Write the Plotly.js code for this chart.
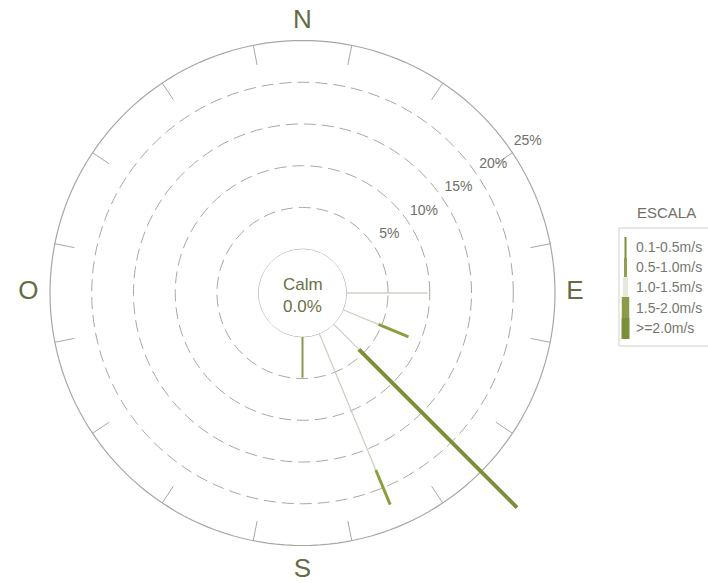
<!DOCTYPE html>
<html><head><meta charset="utf-8">
<script src="https://cdn.plot.ly/plotly-3.0.1.min.js"></script>
<style>html,body{margin:0;padding:0;background:#fff;overflow:hidden;width:708px;height:583px}
#chart{position:absolute;left:-40px;top:-40px;width:788px;height:663px}</style>
</head><body><div id="chart"></div>
<script>
// ---- data ----
const directions = ['N','NNE','NE','ENE','E','ESE','SE','SSE','S','SSW','SW','WSW','W','WNW','NW','NNW'];
const dirAngles = [0,22.5,45,67.5,90,112.5,135,157.5,180,202.5,225,247.5,270,292.5,315,337.5];
const speedBins = ['0.1-0.5m/s','0.5-1.0m/s','1.0-1.5m/s','1.5-2.0m/s','>=2.0m/s'];
// frequency (%) per direction for each speed bin
const freq_01_05 = [0,0,0,0,0,0,0,0,0,0,0,0,0,0,0,0];
const freq_05_10 = [0,0,0,0,0,0,0,0,4.9,0,0,0,0,0,0,0];
const freq_10_15 = [0,0,0,0,9.7,4.6,4.3,17.7,0,0,0,0,0,0,0,0];
const freq_15_20 = [0,0,0,0,0,3.9,0,4.5,0,0,0,0,0,0,0,0];
const freq_20_up = [0,0,0,0,0,0,26.8,0,0,0,0,0,0,0,0,0];
const calmPct = 0.0;
const ringTicks = [5,10,15,20,25];
const ringLabels = ['5%','10%','15%','20%','25%'];
const compassLabels = ['N','E','S','O'];
const compassAngles = [0,90,180,270];
const sectorEdges = [11.25,33.75,56.25,78.75,101.25,123.75,146.25,168.75,191.25,213.75,236.25,258.75,281.25,303.75,326.25,348.75];

// ---- styles / geometry ----
const binColors = ['#6f8a30','#8a9a50','#cfd0c4','#88a040','#7b8f3a'];
const binWidths = [1.3,2,1.3,3,4];
const legendBarColors = ['#7b8f3a','#8fa050','#e6e8dc','#8a9c48','#7b8f3a'];
const legendBarWidths = [2,3,5,7.5,8];
const FONT = 'Liberation Sans, Arial, sans-serif';

const PAD = 40, W = 708 + 2*PAD, H = 583 + 2*PAD;
const cx = 302.5, cy = 293;          // centre in visible pixels
const holePx = 43.8, r25Px = 252.5;  // calm circle and 25 % ring radii
const rMax = 31.5;
const pxPerPct = (r25Px - holePx) / 25;
const Rtot = holePx + rMax * pxPerPct;
const tickLenPct = 20 / pxPerPct;
const px = x => (x + PAD) / W, py = y => 1 - (y + PAD) / H;

const allBins = [freq_01_05, freq_05_10, freq_10_15, freq_15_20, freq_20_up];
const cum = dirAngles.map(() => 0);
const traces = [];

// calm circle (r = 0) and outer 25 % circle
const circTheta = [], circZero = [], circOuter = [];
for (let a = 0; a <= 360; a += 2) { circTheta.push(a); circZero.push(0); circOuter.push(ringTicks[ringTicks.length-1]); }
traces.push({type:'scatterpolar', r:circZero, theta:circTheta, mode:'lines',
  line:{color:'#a9a9a3', width:1}, hoverinfo:'skip', showlegend:false, cliponaxis:false});
traces.push({type:'scatterpolar', r:circOuter, theta:circTheta, mode:'lines',
  line:{color:'#a8a8a2', width:1.2}, hoverinfo:'skip', showlegend:false, cliponaxis:false});
// sector boundary ticks on the outer circle
const tkR = [], tkT = [];
sectorEdges.forEach(a => { tkR.push(25 - tickLenPct, 25, null); tkT.push(a, a, null); });
traces.push({type:'scatterpolar', r:tkR, theta:tkT, mode:'lines', connectgaps:false,
  line:{color:'#a8a8a2', width:1}, hoverinfo:'skip', showlegend:false, cliponaxis:false});

allBins.forEach((vals, b) => {
  const r = [], th = [];
  vals.forEach((v, i) => {
    if (v > 0) {
      r.push(cum[i], cum[i] + v, null);
      th.push(dirAngles[i], dirAngles[i], null);
      cum[i] += v;
    }
  });
  traces.push({type:'scatterpolar', name:speedBins[b], r:r, theta:th, mode:'lines',
    connectgaps:false, line:{color:binColors[b], width:binWidths[b]},
    hoverinfo:'skip', showlegend:false, cliponaxis:false});
});

// ring labels
traces.push({type:'scatterpolar', r:ringTicks.map(v => v + 2.3), theta:ringTicks.map(() => 56),
  mode:'text', text:ringLabels, textfont:{family:FONT, size:14, color:'#707068'},
  hoverinfo:'skip', showlegend:false, cliponaxis:false});
// compass labels
traces.push({type:'scatterpolar', r:[27.3,27.4,28.0,27.6], theta:compassAngles,
  mode:'text', text:compassLabels, textfont:{family:FONT, size:26, color:'#656c42'},
  hoverinfo:'skip', showlegend:false, cliponaxis:false});

// ---- legend (custom) ----
const shapes = [];
const annotations = [];
shapes.push({type:'rect', xref:'paper', yref:'paper', x0:px(619), x1:px(712), y0:py(346), y1:py(228),
  line:{color:'#cfcfcb', width:1}, fillcolor:'rgba(0,0,0,0)'});
const barEdges = [237, 258, 277, 297, 318, 339];
speedBins.forEach((lab, i) => {
  const w = legendBarWidths[i];
  shapes.push({type:'rect', xref:'paper', yref:'paper', x0:px(625.5 - w/2), x1:px(625.5 + w/2),
    y0:py(barEdges[i+1]), y1:py(barEdges[i]), line:{width:0}, fillcolor:legendBarColors[i]});
  annotations.push({xref:'paper', yref:'paper', x:px(634), y:py(247 + i*20.2), xanchor:'left', yanchor:'middle',
    text:lab, showarrow:false, font:{family:FONT, size:14, color:'#77776f'}});
});
annotations.push({xref:'paper', yref:'paper', x:px(666), y:py(212), xanchor:'center', yanchor:'middle',
  text:'ESCALA', showarrow:false, font:{family:FONT, size:15, color:'#707068'}});
// calm text
annotations.push({xref:'paper', yref:'paper', x:px(cx), y:py(284), xanchor:'center', yanchor:'middle',
  text:'Calm', showarrow:false, font:{family:FONT, size:17, color:'#6b7045'}});
annotations.push({xref:'paper', yref:'paper', x:px(cx), y:py(306), xanchor:'center', yanchor:'middle',
  text:calmPct.toFixed(1) + '%', showarrow:false, font:{family:FONT, size:17, color:'#6b7045'}});

const layout = {
  width:W, height:H, margin:{l:0,r:0,t:0,b:0},
  paper_bgcolor:'#ffffff', showlegend:false,
  polar:{
    domain:{x:[px(cx-Rtot), px(cx+Rtot)], y:[py(cy+Rtot), py(cy-Rtot)]},
    bgcolor:'rgba(0,0,0,0)',
    hole: holePx / Rtot,
    radialaxis:{range:[0,rMax], tickmode:'array', tickvals:[5,10,15,20], showticklabels:false,
      ticks:'', showline:false, showgrid:true, gridcolor:'#a8a8a2', gridwidth:1, griddash:'12px,6px'},
    angularaxis:{rotation:90, direction:'clockwise', showticklabels:false, ticks:'',
      showgrid:false, showline:false}
  },
  shapes:shapes, annotations:annotations
};
Plotly.newPlot('chart', traces, layout, {staticPlot:true, displayModeBar:false});
</script></body></html>
